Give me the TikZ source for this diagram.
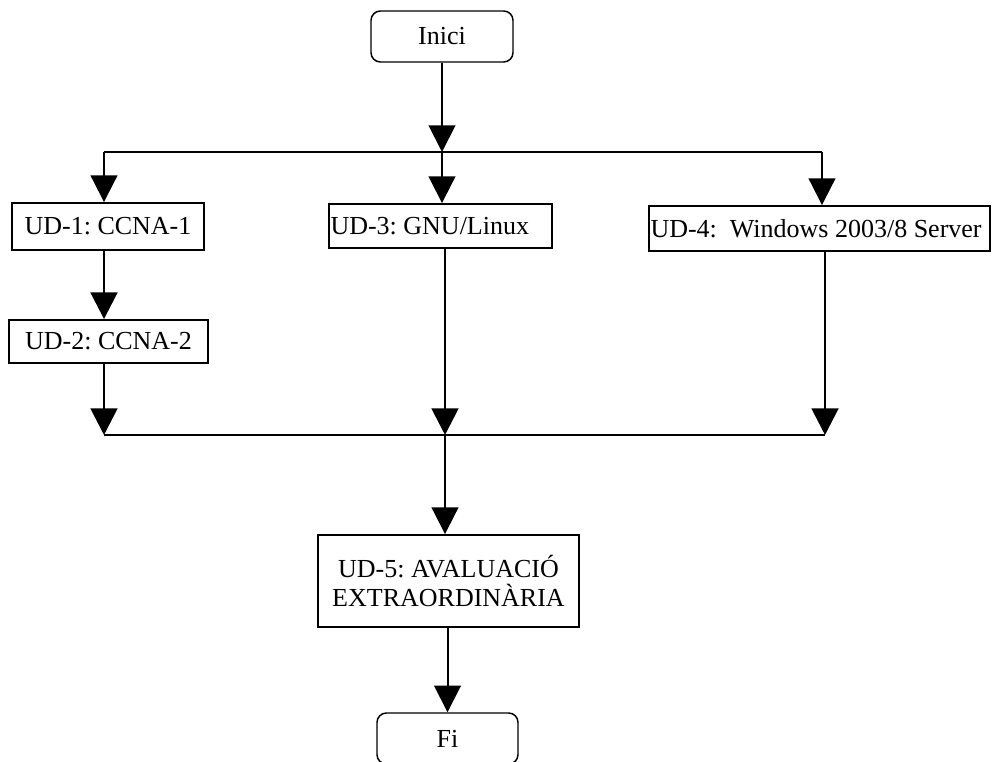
\documentclass[tikz,border=0pt]{standalone}
\usepackage{fontspec}
\setmainfont{Liberation Serif}
\usetikzlibrary{arrows.meta}
\frenchspacing
\begin{document}
\begin{tikzpicture}[x=0.75pt,y=-0.75pt,
  box/.style={draw, line width=1.4pt, inner sep=0pt, font=\fontsize{19.5}{22}\selectfont},
  term/.style={box, rounded corners=7pt, line width=1.1pt},
  thin/.style={line width=1.5pt},
  thick/.style={line width=2.2pt},
  arr/.style={-{Triangle[length=20pt,width=20pt]}}]
\useasboundingbox (0,0) rectangle (992,762);
% nodes
\node[term, minimum width=106.5pt, minimum height=38.25pt] (inici) at (442,36.5) {Inici};
\node[box, minimum width=144pt, minimum height=35.25pt] (ud1) at (108,226.5) {UD-1: CCNA-1};
\node[box, minimum width=149.25pt, minimum height=32.25pt] (ud2) at (108.5,341.5) {UD-2: CCNA-2};
\node[box, inner xsep=1pt, minimum height=33pt] (ud3) at (440.5,226) {\makebox[165pt][l]{UD-3: GNU/Linux}};
\node[box, inner xsep=1pt, minimum height=33.75pt] (ud4) at (819.5,228.5) {\makebox[253.5pt][l]{UD-4:\ \ Windows 2003/8 Server}};
\node[box, align=center, minimum width=195.75pt, minimum height=69pt] (ud5) at (448.5,581) {UD-5: AVALUACIÓ\\EXTRAORDINÀRIA};
\node[term, minimum width=105.75pt, minimum height=38.25pt] (fi) at (447.5,738.5) {Fi};
% junction coordinates
\coordinate (ja) at (442,152);
\coordinate (jl) at (104,152);
\coordinate (jr) at (822,152);
\coordinate (ba) at (104,435);
\coordinate (bm) at (445,435);
\coordinate (br) at (825,435);
% top split
\draw[thin, arr] (inici.south) -- (ja);
\draw[thin] (jl) -- (jr);
\draw[thin, arr] (jl) -- (jl |- ud1.north);
\draw[thin, arr] (ja) -- (ja |- ud3.north);
\draw[thin, arr] (jr) -- (jr |- ud4.north);
% left chain
\draw[thick, arr] (ud1.south -| jl) -- (ud2.north -| jl);
% merge
\draw[thick, arr] (ud2.south -| ba) -- (ba);
\draw[thick, arr] (ud3.south -| bm) -- (bm);
\draw[thick, arr] (ud4.south -| br) -- (br);
\draw[thin] (ba) -- (br);
\draw[thin, arr] (bm) -- (bm |- ud5.north);
\draw[thin, arr] (ud5.south -| fi.north) -- (fi.north);
\end{tikzpicture}
\end{document}
